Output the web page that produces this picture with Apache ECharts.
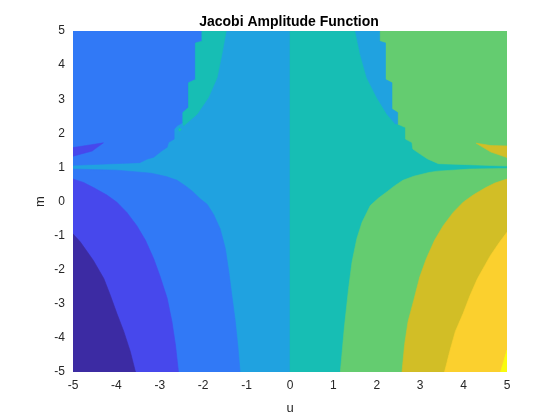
<!DOCTYPE html>
<html>
<head>
<meta charset="utf-8">
<script src="https://cdn.jsdelivr.net/npm/echarts@6/dist/echarts.min.js"></script>
<style>html,body{margin:0;padding:0;background:#fff}#c{width:560px;height:420px}</style>
</head>
<body>
<div id="c"></div>
<script>
// Tick labels
const uTicks = [-5, -4, -3, -2, -1, 0, 1, 2, 3, 4, 5];
const mTicks = [-5, -4, -3, -2, -1, 0, 1, 2, 3, 4, 5];

// Filled contour bands (boundaries, in [u, m] data units)
const leftBase = [[-5, -5], [0, -5], [0, 5], [-5, 5]];
const rightBase = [[0, -5], [5, -5], [5, 5], [0, 5]];

const blueUpper = [[-5, 5], [-2.03, 5], [-2.03, 4.70], [-2.18, 4.65], [-2.18, 3.58], [-2.34, 3.48],
  [-2.34, 2.755], [-2.47, 2.61], [-2.47, 2.32], [-2.60, 2.22], [-2.67, 2.12], [-2.67, 1.83],
  [-2.80, 1.73], [-2.83, 1.59], [-2.96, 1.48], [-3.14, 1.30], [-3.30, 1.24], [-3.46, 1.14], [-5, 1.06]];
const blueLower = [[-5, 0.95], [-4.0, 0.92], [-3.45, 0.86], [-3.2, 0.83], [-2.85, 0.73], [-2.6, 0.62],
  [-2.4, 0.45], [-2.25, 0.30], [-2.07, 0.08], [-1.91, -0.08], [-1.76, -0.38], [-1.61, -0.80],
  [-1.49, -1.38], [-1.41, -2.06], [-1.34, -2.75], [-1.26, -3.52], [-1.20, -4.25], [-1.15, -5], [-5, -5]];
const tealStrip = [[-2.03, 5], [-1.47, 5], [-1.57, 4.31], [-1.68, 3.63], [-1.88, 3.05], [-2.14, 2.56],
  [-2.45, 2.22], [-2.47, 2.32], [-2.47, 2.61], [-2.34, 2.755], [-2.34, 3.48], [-2.18, 3.58],
  [-2.18, 4.65], [-2.03, 4.70]];
const tealDot = [[-2.58, 2.11], [-2.54, 2.16], [-2.50, 2.11], [-2.54, 2.06]];
const violetWedge = [[-5, 1.58], [-4.65, 1.65], [-4.30, 1.72], [-4.56, 1.48], [-5, 1.33]];
const violetLower = [[-5, 0.66], [-4.76, 0.56], [-4.53, 0.41], [-4.22, 0.19], [-3.99, -0.02],
  [-3.76, -0.32], [-3.53, -0.71], [-3.33, -1.14], [-3.14, -1.68], [-2.99, -2.21], [-2.83, -2.84],
  [-2.72, -3.52], [-2.64, -4.20], [-2.57, -5], [-5, -5]];
const navy = [[-5, -0.95], [-4.83, -1.19], [-4.53, -1.73], [-4.29, -2.26], [-4.14, -2.75],
  [-3.99, -3.28], [-3.83, -3.81], [-3.68, -4.40], [-3.56, -5], [-5, -5]];

const greenUpper = [[5, 5], [2.065, 5], [2.065, 4.70], [2.20, 4.65], [2.20, 3.58], [2.35, 3.48],
  [2.35, 2.71], [2.48, 2.61], [2.48, 2.27], [2.66, 2.17], [2.66, 1.83], [2.81, 1.73], [2.83, 1.54],
  [3.00, 1.39], [3.17, 1.25], [3.42, 1.11], [5, 1.04]];
const greenLower = [[5, 0.97], [4.15, 0.95], [3.4, 0.89], [3.2, 0.85], [2.85, 0.74], [2.6, 0.62],
  [2.4, 0.45], [2.25, 0.30], [2.04, 0.10], [1.85, -0.12], [1.66, -0.61], [1.54, -1.09],
  [1.43, -1.77], [1.35, -2.55], [1.25, -3.72], [1.16, -5], [5, -5]];
const lightBlueStrip = [[2.065, 5], [1.505, 5], [1.62, 4.31], [1.77, 3.63], [2.00, 3.05], [2.235, 2.56],
  [2.43, 2.27], [2.48, 2.27], [2.48, 2.61], [2.35, 2.71], [2.35, 3.48], [2.20, 3.58],
  [2.20, 4.65], [2.065, 4.70]];
const oliveWedge = [[5, 1.63], [4.63, 1.64], [4.29, 1.71], [4.63, 1.45], [5, 1.29]];
const oliveLower = [[5, 0.66], [4.72, 0.54], [4.50, 0.40], [4.22, 0.19], [3.99, -0.02],
  [3.76, -0.32], [3.53, -0.71], [3.33, -1.14], [3.14, -1.68], [2.99, -2.21], [2.85, -2.90],
  [2.72, -3.52], [2.64, -4.20], [2.58, -5], [5, -5]];
const yellow = [[5, -0.90], [4.83, -1.19], [4.62, -1.58], [4.32, -2.26], [4.15, -2.75],
  [3.99, -3.28], [3.81, -3.81], [3.68, -4.40], [3.56, -5], [5, -5]];
const brightYellow = [[5, -4.35], [4.92, -4.70], [4.85, -5], [5, -5]];

const layers = [
  ['leftBase', leftBase, '#20A2E0'],
  ['rightBase', rightBase, '#17BEB4'],
  ['blueUpper', blueUpper, '#3179F6'],
  ['blueLower', blueLower, '#3179F6'],
  ['tealStrip', tealStrip, '#17BEB4'],
  ['tealDot', tealDot, '#17BEB4'],
  ['violetWedge', violetWedge, '#4748EC'],
  ['violetLower', violetLower, '#4748EC'],
  ['navy', navy, '#3C2BA3'],
  ['greenUpper', greenUpper, '#64CC70'],
  ['greenLower', greenLower, '#64CC70'],
  ['lightBlueStrip', lightBlueStrip, '#20A2E0'],
  ['oliveWedge', oliveWedge, '#D2BE26'],
  ['oliveLower', oliveLower, '#D2BE26'],
  ['yellow', yellow, '#FBD02E'],
  ['brightYellow', brightYellow, '#F9FB0E']
];

const series = layers.map(function (l, i) {
  const pts = l[1], col = l[2];
  return {
    type: 'custom', name: l[0], silent: true, clip: true, z: 2 + i,
    data: [[0, 0]],
    renderItem: function (params, api) {
      return {
        type: 'polygon',
        shape: { points: pts.map(function (p) { return api.coord(p); }) },
        style: { fill: col, stroke: col, lineWidth: 0.6 }
      };
    }
  };
});

const font = "'Liberation Sans', Arial, Helvetica, sans-serif";
const chart = echarts.init(document.getElementById('c'), null, { renderer: 'canvas' });
chart.setOption({
  animation: false,
  backgroundColor: '#ffffff',
  title: {
    text: 'Jacobi Amplitude Function', left: 284, top: 10, textAlign: 'center',
    textStyle: { fontFamily: font, fontSize: 14, fontWeight: 'bold', color: '#000000' }
  },
  grid: { left: 73, right: 53, top: 31, bottom: 46 },
  xAxis: {
    type: 'value', min: uTicks[0], max: uTicks[uTicks.length - 1], interval: 1,
    axisLine: { show: false }, axisTick: { show: false }, splitLine: { show: false },
    axisLabel: { color: '#262626', fontSize: 12, fontFamily: font, margin: 8 },
    name: 'u', nameLocation: 'middle', nameGap: 30, nameMoveOverlap: false,
    nameTextStyle: { color: '#262626', fontSize: 13, fontFamily: font }
  },
  yAxis: {
    type: 'value', min: mTicks[0], max: mTicks[mTicks.length - 1], interval: 1,
    axisLine: { show: false }, axisTick: { show: false }, splitLine: { show: false },
    axisLabel: { color: '#262626', fontSize: 12, fontFamily: font, margin: 8 },
    name: 'm', nameLocation: 'middle', nameGap: 26, nameRotate: 90, nameMoveOverlap: false,
    nameTextStyle: { color: '#262626', fontSize: 13, fontFamily: font }
  },
  series: series
});
</script>
</body>
</html>
